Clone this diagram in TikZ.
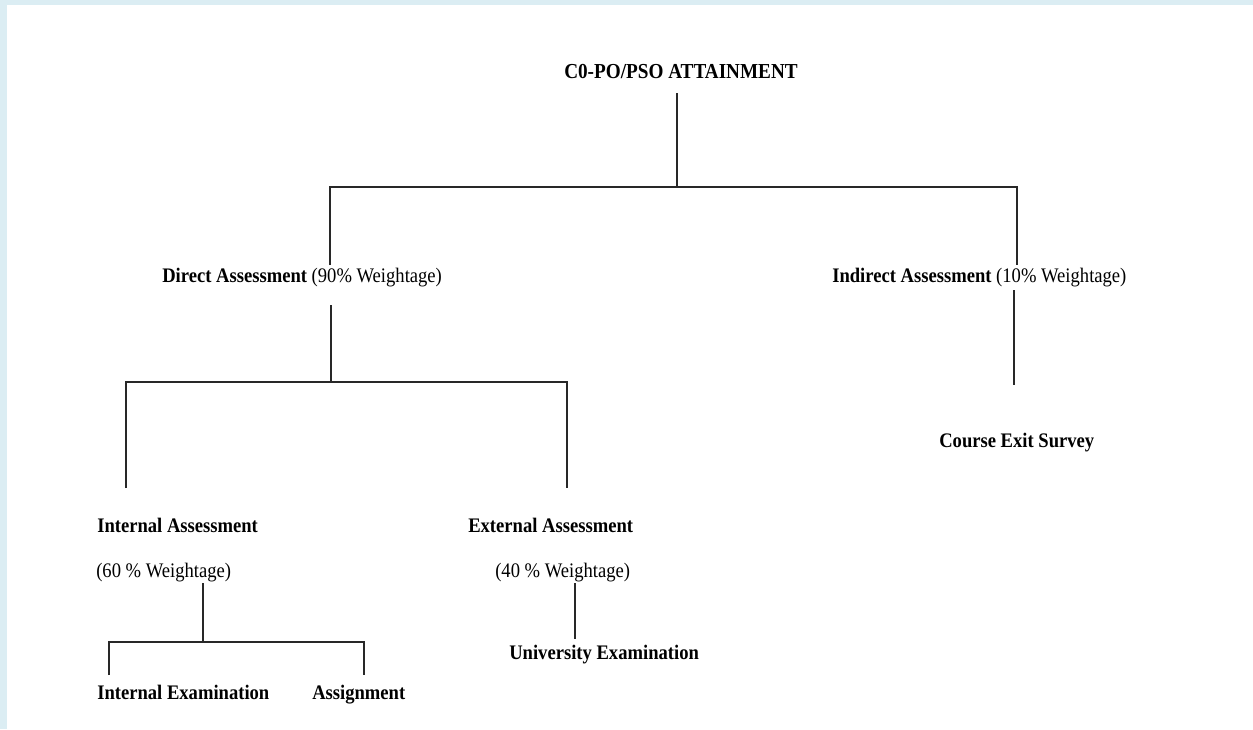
\documentclass[tikz,border=0pt]{standalone}
\usepackage{fontspec}
\setmainfont{Liberation Serif}[FakeStretch=0.9]
\definecolor{frame-blue}{RGB}{219,237,243}
\definecolor{line-grey}{RGB}{40,40,40}
\tikzset{
  branch/.style={
    draw=line-grey,
    line width=0.8pt,
    -
  },
  tree-label/.style={
    anchor=base west,
    inner sep=0pt,
    font=\fontsize{15.5}{18}\selectfont
  },
  tree-head/.style={
    tree-label,
    font=\fontsize{15.5}{18}\selectfont\bfseries
  },
  tree-title/.style={
    tree-label,
    font=\fontsize{16}{18}\selectfont\bfseries
  },
}

\begin{document}
\begin{tikzpicture}[x=0.75pt,y=-0.75pt]

  \useasboundingbox (0,0) rectangle (1253,729);
  \fill[frame-blue] (0,0) rectangle (1253,729);
  \fill[white] (7,5) rectangle (1253,729);

  % labels
  \node[tree-title] (attainment) at (564,78) {C0-PO/PSO ATTAINMENT};
  \node[tree-label] (direct) at (162,282) {\textbf{Direct Assessment} (90\% Weightage)};
  \node[tree-label] (indirect) at (832,282) {\textbf{Indirect Assessment} (10\% Weightage)};
  \node[tree-head] (survey) at (939,447) {Course Exit Survey};
  \node[tree-head] (internal) at (97,532) {Internal Assessment};
  \node[tree-label] (internal-weight) at (96,577) {(60 \% Weightage)};
  \node[tree-head] (external) at (468,532) {External Assessment};
  \node[tree-label] (external-weight) at (495,577) {(40 \% Weightage)};
  \node[tree-head] (university) at (509,659) {University Examination};
  \node[tree-head] (int-exam) at (97,699) {Internal Examination};
  \node[tree-head] (assignment) at (312,699) {Assignment};

  % branch points
  \coordinate (attainment-stem) at (677,93);
  \coordinate (attainment-bar) at (677,187);
  \coordinate (top-bar-left) at (330,187);
  \coordinate (top-bar-right) at (1017,187);
  \coordinate (direct-top) at (330,265);
  \coordinate (indirect-top) at (1017,265);

  \coordinate (direct-stem) at (331,305);
  \coordinate (direct-bar) at (331,382);
  \coordinate (mid-bar-left) at (126,382);
  \coordinate (mid-bar-right) at (567,382);
  \coordinate (internal-top) at (126,488);
  \coordinate (external-top) at (567,488);

  \coordinate (indirect-stem) at (1014,290);
  \coordinate (survey-top) at (1014,385);

  \coordinate (internal-stem) at (203,583);
  \coordinate (internal-bar) at (203,642);
  \coordinate (low-bar-left) at (109,642);
  \coordinate (low-bar-right) at (364,642);
  \coordinate (int-exam-top) at (109,675);
  \coordinate (assignment-top) at (364,675);

  \coordinate (external-stem) at (575,583);
  \coordinate (university-top) at (575,639);

  % connectors
  \draw[branch] (attainment-stem) -- (attainment-bar);
  \draw[branch] (direct-top) -- (top-bar-left) -- (top-bar-right) -- (indirect-top);

  \draw[branch] (direct-stem) -- (direct-bar);
  \draw[branch] (internal-top) -- (mid-bar-left) -- (mid-bar-right) -- (external-top);

  \draw[branch] (indirect-stem) -- (survey-top);

  \draw[branch] (internal-stem) -- (internal-bar);
  \draw[branch] (int-exam-top) -- (low-bar-left) -- (low-bar-right) -- (assignment-top);

  \draw[branch] (external-stem) -- (university-top);

\end{tikzpicture}
\end{document}
